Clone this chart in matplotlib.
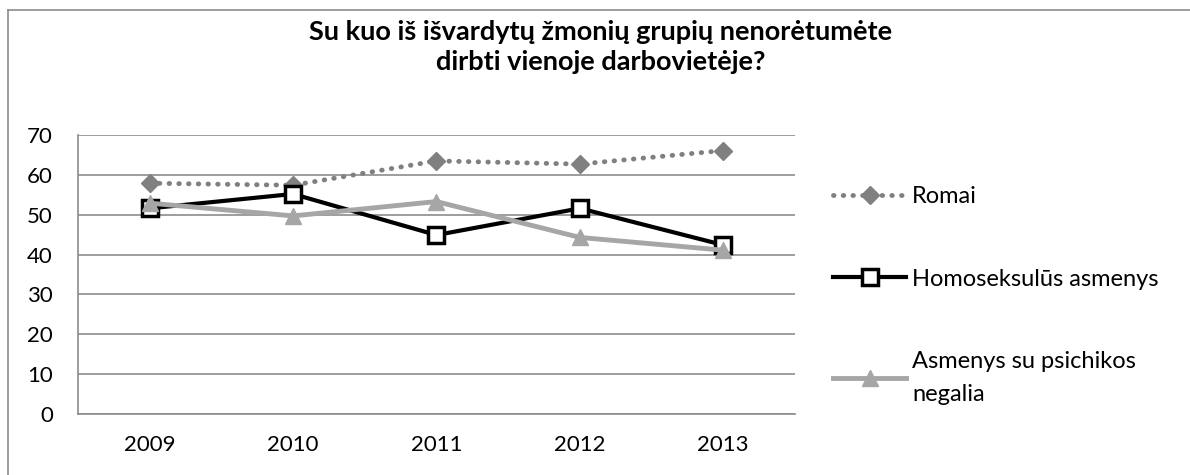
"""Line chart: attitudes towards working with different groups, 2009-2013"""

import matplotlib
matplotlib.use('Agg')
import matplotlib.pyplot as plt
from matplotlib.lines import Line2D

plt.rcParams['font.family'] = ['Lato', 'DejaVu Sans']

years = ['2009', '2010', '2011', '2012', '2013']
romai = [57.9, 57.4, 63.5, 62.7, 66.1]
homoseksualus = [51.6, 55.2, 44.9, 51.6, 42.4]
psichikos = [52.9, 49.7, 53.3, 44.3, 41.1]
labels = ['Romai', 'Homoseksulūs asmenys', 'Asmenys su psichikos\nnegalia']
title = 'Su kuo iš išvardytų žmonių grupių nenorėtumėte\ndirbti vienoje darbovietėje?'

fig = plt.figure(figsize=(11.9, 4.75), dpi=100)
ax = fig.add_axes([0.0655, 0.1284, 0.6025, 0.5874])

x = range(len(years))

# Romai - dotted grey with diamonds
l1, = ax.plot(x, romai, color='#808080', lw=3.5, linestyle=(0, (0.1, 1.9)),
              dash_capstyle='round', marker='D', markersize=9, zorder=3)
# Homoseksulus - black with white squares
l2, = ax.plot(x, homoseksualus, color='black', lw=3, marker='s', markersize=12,
              markerfacecolor='white', markeredgecolor='black', markeredgewidth=2.5, zorder=4)
# Psichikos negalia - light grey with triangles
l3, = ax.plot(x, psichikos, color='#A6A6A6', lw=3.5, marker='^', markersize=12, zorder=5)

ax.set_xlim(-0.5, 4.5)
ax.set_ylim(0, 70)
ax.set_yticks(range(0, 71, 10))
ax.set_xticks(list(x))
ax.set_xticklabels(years)
ax.yaxis.grid(True, color='#8c8c8c', lw=1.2)
ax.set_axisbelow(True)
ax.tick_params(axis='both', length=0, labelsize=16)
ax.tick_params(axis='y', pad=18)
ax.tick_params(axis='x', pad=15)
for s in ['top', 'right']:
    ax.spines[s].set_visible(False)
for s in ['left', 'bottom']:
    ax.spines[s].set_color('#8c8c8c')
    ax.spines[s].set_linewidth(1.2)

fig.text(0.505, 0.9, title, ha='center', va='center', fontsize=19.5,
         fontweight='bold', linespacing=1.3)

leg = ax.legend([l1, l2, l3], labels, loc='upper left', bbox_to_anchor=(1.04, 0.85),
                frameon=False, fontsize=17, handlelength=3.1, handletextpad=0.25,
                labelspacing=2.6, borderaxespad=0)
for t in leg.get_texts():
    t.set_linespacing(1.7)

# outer chart border (partly cropped)
fig.add_artist(Line2D([0.0067, 1.0], [0.979, 0.979], color='#8c8c8c', lw=1.2))
fig.add_artist(Line2D([0.0067, 0.0067], [0.0, 0.979], color='#8c8c8c', lw=1.2))

plt.savefig('out.png', dpi=100)
